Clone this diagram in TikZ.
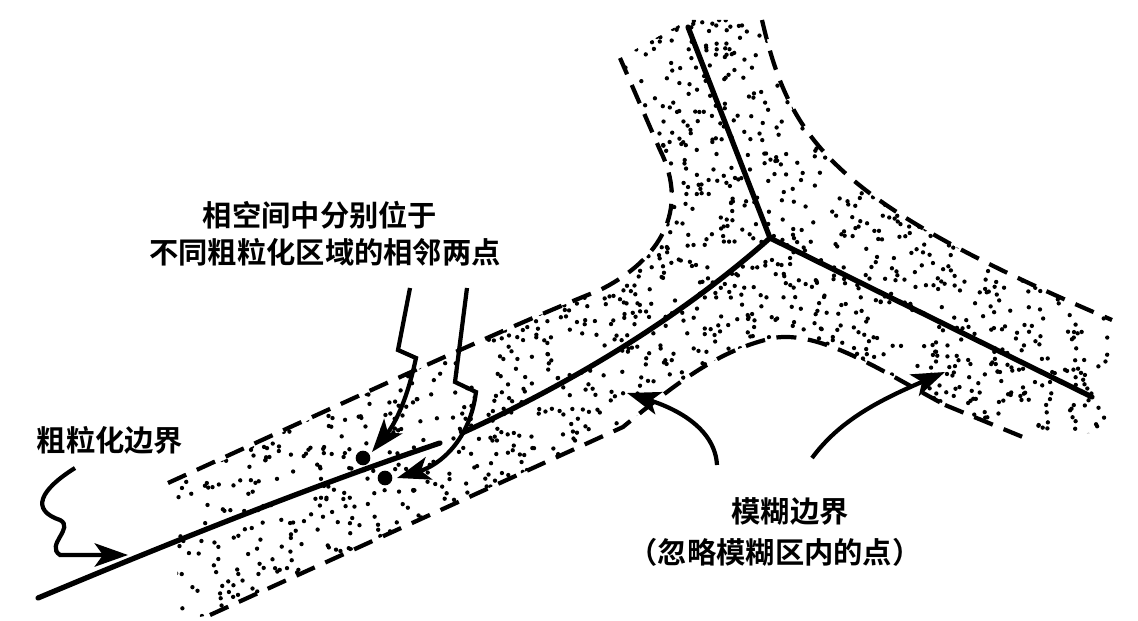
\documentclass[tikz,border=0pt]{standalone}
\usepackage{fontspec}
\setmainfont{Noto Sans CJK SC Bold}
\usetikzlibrary{arrows.meta}
\tikzset{
  grens/.style={line width=4.5pt, line cap=round},
  vaag/.style={line width=3.6pt, dash pattern=on 0.6cm off 0.35cm},
  pijl/.style={line width=3.6pt, -{Stealth[length=1cm, width=0.7cm, inset=0.25cm]}},
  tekst/.style={font=\fontsize{25}{30}\selectfont, inner sep=0pt}
}
\begin{document}
\begin{tikzpicture}[x=0.03cm, y=-0.03cm]
	\useasboundingbox (0,0) rectangle (1138,621);
	%Stippelgebied
	\begin{scope}
		\clip (176,483) .. controls (350,400) and (500,330) .. (600,290)
			.. controls (660,260) and (690,210) .. (660,150) -- (620,58) -- (688,20) -- (762,20)
			.. controls (790,140) and (830,200) .. (1112,320) -- (1115,430) -- (1030,440) -- (945,405)
			.. controls (880,370) and (820,330) .. (773,338) .. controls (720,350) and (680,380) .. (623,427)
			-- (210,615) -- (178,621) -- cycle;
		\pgfmathsetseed{11}
		\foreach \i in {1,...,4500}
			\fill (rnd*1138, rnd*621) circle (0.065cm);
	\end{scope}
	%Grenzen
	\coordinate (kruis) at (770,238);
	\draw[grens] (38,598) .. controls (200,530) and (330,480) .. (440,443);
	\draw[grens] (462,433) .. controls (600,370) and (700,300) .. (kruis);
	\draw[grens] (kruis) -- (688,27);
	\draw[grens] (kruis) -- (1092,397);
	%Vage grenzen
	\draw[vaag] (168,483) .. controls (350,400) and (500,330) .. (600,290)
		.. controls (660,260) and (690,210) .. (660,150) -- (620,58);
	\draw[vaag] (762,20) .. controls (790,140) and (830,200) .. (1112,320);
	\draw[vaag] (210,615) -- (623,427) .. controls (680,380) and (720,350) .. (773,338)
		.. controls (820,330) and (880,370) .. (945,405);
	\draw[vaag] (945,405) -- (1030,440);
	%Punten
	\fill (363,458) circle (0.22cm) coordinate (p1);
	\fill (385,478) circle (0.22cm) coordinate (p2);
	%Teksten
	\node[tekst] (fase1) at (320,215) {相空间中分别位于};
	\node[tekst] (fase2) at (325,252) {不同粗粒化区域的相邻两点};
	\node[tekst] (rand) at (110,440) {粗粒化边界};
	\node[tekst] (vaag1) at (790,512) {模糊边界};
	\node[tekst] (vaag2) at (775,552) {（忽略模糊区内的点）};
	%Pijlen
	\draw[pijl] (410,288) -- (398,350) -- (416,358) .. controls (405,410) and (390,430) .. (372,452);
	\draw[pijl] (467,288) -- (455,382) -- (476,392) .. controls (470,440) and (440,465) .. (397,478);
	\draw[pijl] (75,468) .. controls (40,490) and (30,510) .. (60,520)
		.. controls (75,528) and (45,545) .. (60,555) -- (128,555);
	\draw[pijl] (717,465) .. controls (715,430) and (680,410) .. (627,393);
	\draw[pijl] (812,458) .. controls (840,420) and (880,400) .. (945,372);
\end{tikzpicture}
\end{document}
